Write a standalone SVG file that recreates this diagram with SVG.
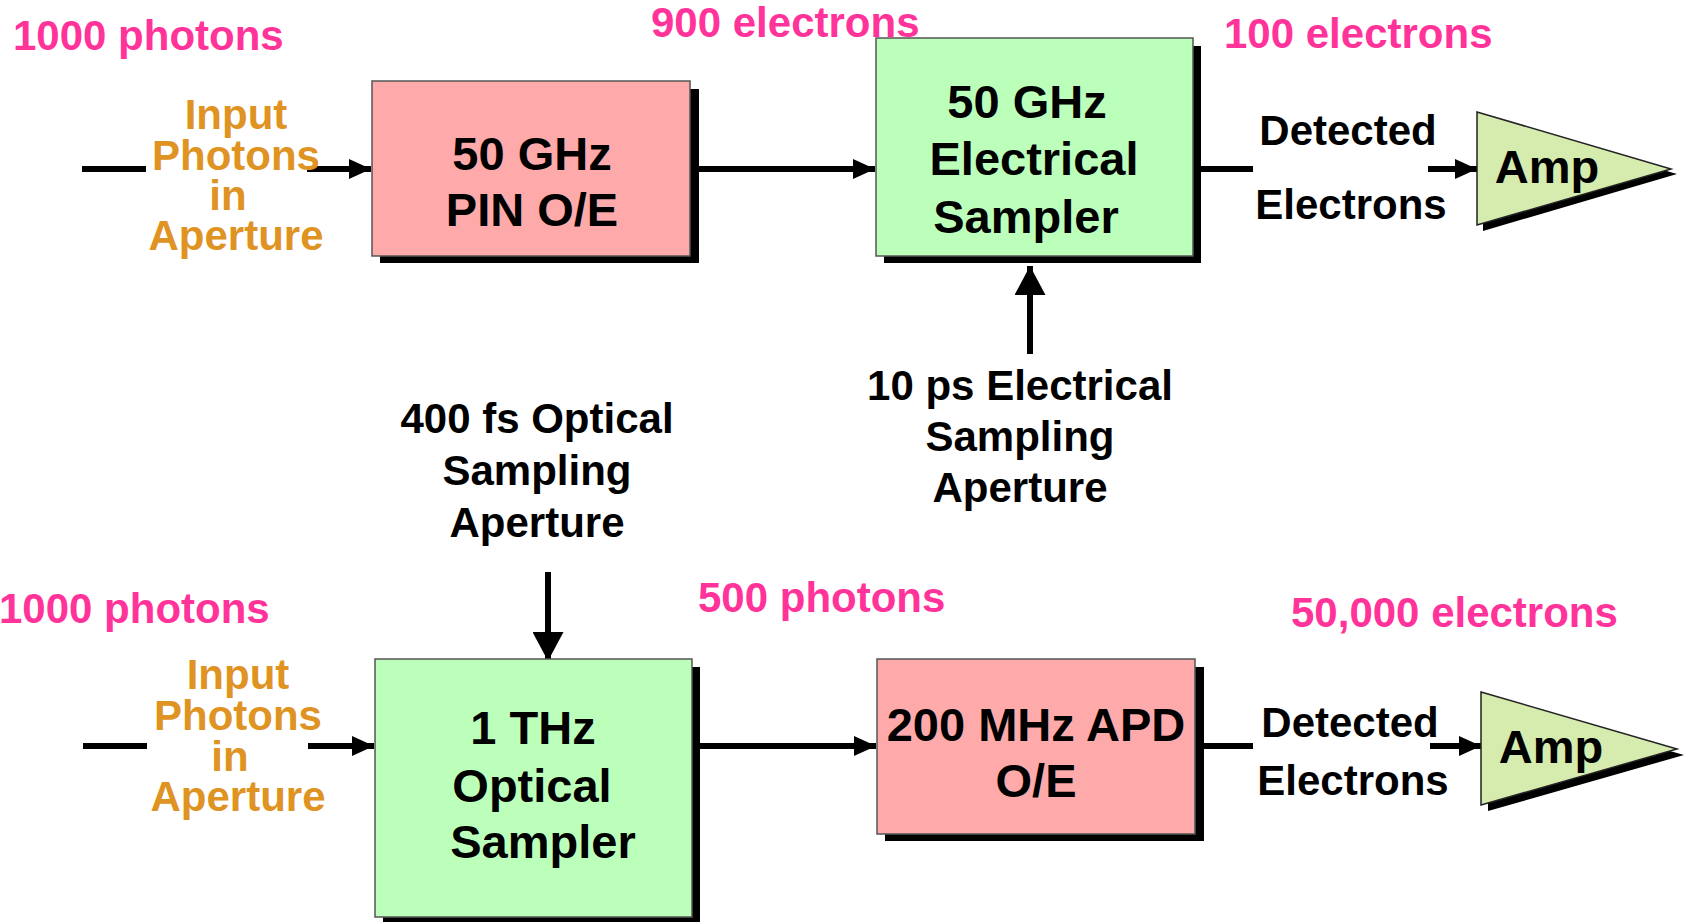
<svg xmlns="http://www.w3.org/2000/svg" width="1684" height="922" viewBox="0 0 1684 922">
<defs>
<style>
text{font-family:"Liberation Sans",Arial,sans-serif;font-weight:bold;}
.pink{fill:#FF3399;font-size:42px;}
.orange{fill:#DF9322;font-size:42px;text-anchor:middle;}
.lbl{fill:#000;font-size:42px;text-anchor:middle;}
.box{fill:#000;font-size:47px;text-anchor:middle;}
.shadow{fill:#000;}
.pinkbox{fill:#FFAAAA;stroke:#555;stroke-width:1.5;}
.greenbox{fill:#BBFFBB;stroke:#555;stroke-width:1.5;}
.amp{fill:#D6EBAE;stroke:#222;stroke-width:1.5;}
.wire{stroke:#000;stroke-width:6;fill:none;}
</style>
<marker id="ah" markerUnits="userSpaceOnUse" markerWidth="22" markerHeight="20" refX="22" refY="10" orient="auto"><path d="M0,0 L22,10 L0,20 Z" fill="#000"/></marker>
<marker id="av" markerUnits="userSpaceOnUse" markerWidth="29" markerHeight="31" refX="29" refY="15.5" orient="auto"><path d="M0,0 L29,15.5 L0,31 Z" fill="#000"/></marker>
</defs>
<rect width="1684" height="922" fill="#fff"/>

<g id="counts">
<text class="pink" x="13" y="50">1000 photons</text>
<text class="pink" x="651" y="37">900 electrons</text>
<text class="pink" x="1224" y="48">100 electrons</text>
<text class="pink" x="-1" y="623">1000 photons</text>
<text class="pink" x="698" y="612">500 photons</text>
<text class="pink" x="1291" y="627">50,000 electrons</text>
</g>

<g id="connectors">
<line class="wire" x1="82" y1="169" x2="146" y2="169"/>
<line class="wire" x1="307" y1="169" x2="371" y2="169" marker-end="url(#ah)"/>
<line class="wire" x1="699" y1="169" x2="875" y2="169" marker-end="url(#ah)"/>
<line class="wire" x1="1201" y1="169" x2="1253" y2="169"/>
<line class="wire" x1="1428" y1="169" x2="1477" y2="169" marker-end="url(#ah)"/>
<line class="wire" x1="1030" y1="354" x2="1030" y2="266" marker-end="url(#av)"/>
<line class="wire" x1="548" y1="572" x2="548" y2="661" marker-end="url(#av)"/>
<line class="wire" x1="83" y1="746" x2="147" y2="746"/>
<line class="wire" x1="308" y1="746" x2="374" y2="746" marker-end="url(#ah)"/>
<line class="wire" x1="700" y1="746" x2="876" y2="746" marker-end="url(#ah)"/>
<line class="wire" x1="1204" y1="746" x2="1253" y2="746"/>
<line class="wire" x1="1430" y1="746" x2="1481" y2="746" marker-end="url(#ah)"/>
</g>

<g id="input-top">
<text class="orange" x="236" y="129">Input</text>
<text class="orange" x="236" y="170">Photons</text>
<text class="orange" x="228" y="210">in</text>
<text class="orange" x="236" y="250">Aperture</text>
</g>

<g id="pin-oe">
<rect class="shadow" x="380" y="89" width="319" height="174"/>
<rect class="pinkbox" x="372" y="81" width="318" height="175"/>
<text class="box" x="532" y="170">50 GHz</text>
<text class="box" x="532" y="226">PIN O/E</text>
</g>

<g id="electrical-sampler">
<rect class="shadow" x="884" y="46" width="317" height="217"/>
<rect class="greenbox" x="876" y="38" width="317" height="218"/>
<text class="box" x="1027" y="118">50 GHz</text>
<text class="box" x="1034" y="175">Electrical</text>
<text class="box" x="1026" y="233">Sampler</text>
</g>

<g id="detected-top">
<text class="lbl" x="1348" y="145">Detected</text>
<text class="lbl" x="1351" y="219">Electrons</text>
</g>

<g id="amp-top">
<polygon class="shadow" points="1483,118 1677,174 1483,231"/>
<polygon class="amp" points="1477,112 1671,169 1477,225"/>
<text class="box" x="1547" y="183">Amp</text>
</g>

<g id="electrical-aperture">
<text class="lbl" x="1020" y="400">10 ps Electrical</text>
<text class="lbl" x="1020" y="451">Sampling</text>
<text class="lbl" x="1020" y="502">Aperture</text>
</g>

<g id="optical-aperture">
<text class="lbl" x="537" y="433">400 fs Optical</text>
<text class="lbl" x="537" y="485">Sampling</text>
<text class="lbl" x="537" y="537">Aperture</text>
</g>

<g id="input-bottom">
<text class="orange" x="238" y="689">Input</text>
<text class="orange" x="238" y="730">Photons</text>
<text class="orange" x="230" y="771">in</text>
<text class="orange" x="238" y="811">Aperture</text>
</g>

<g id="optical-sampler">
<rect class="shadow" x="383" y="667" width="317" height="260"/>
<rect class="greenbox" x="375" y="659" width="317" height="258"/>
<text class="box" x="533" y="744">1 THz</text>
<text class="box" x="532" y="802">Optical</text>
<text class="box" x="543" y="858">Sampler</text>
</g>

<g id="apd-oe">
<rect class="shadow" x="885" y="667" width="319" height="174"/>
<rect class="greenbox" x="877" y="659" width="318" height="175" style="fill:#FFAAAA"/>
<text class="box" x="1036" y="741">200 MHz APD</text>
<text class="box" x="1036" y="797">O/E</text>
</g>

<g id="detected-bottom">
<text class="lbl" x="1350" y="737">Detected</text>
<text class="lbl" x="1353" y="795">Electrons</text>
</g>

<g id="amp-bottom">
<polygon class="shadow" points="1488,699 1684,755 1488,811"/>
<polygon class="amp" points="1481,692 1677,749 1481,805"/>
<text class="box" x="1551" y="763">Amp</text>
</g>
</svg>
